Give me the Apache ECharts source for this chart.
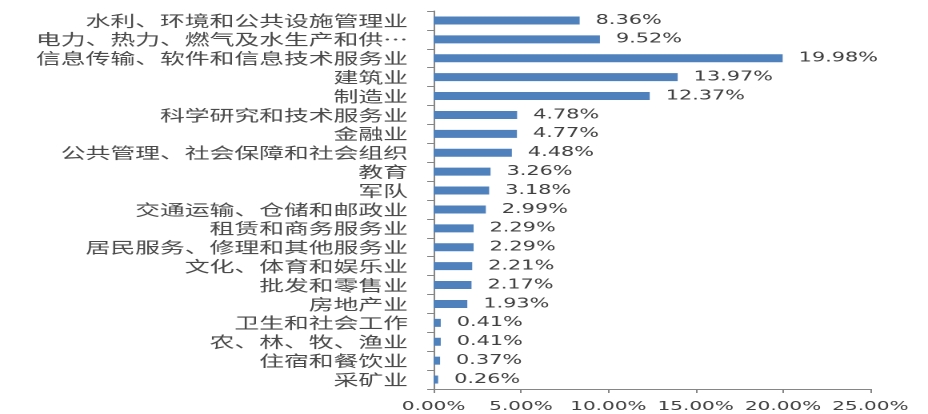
<!DOCTYPE html>
<html>
<head>
<meta charset="utf-8">
<script src="https://cdn.jsdelivr.net/npm/echarts@6/dist/echarts.min.js"></script>
<style>
  html, body { margin: 0; padding: 0; background: #fff; overflow: hidden; }
  /* the reference is stretched sideways, so draw narrow and widen it */
  #chart { width: 580px; height: 414px; transform: scaleX(1.6); transform-origin: 0 0; }
</style>
</head>
<body>
<div id="chart"></div>
<script>
const industries = [
  "水利、环境和公共设施管理业",
  "电力、热力、燃气及水生产和供…",
  "信息传输、软件和信息技术服务业",
  "建筑业",
  "制造业",
  "科学研究和技术服务业",
  "金融业",
  "公共管理、社会保障和社会组织",
  "教育",
  "军队",
  "交通运输、仓储和邮政业",
  "租赁和商务服务业",
  "居民服务、修理和其他服务业",
  "文化、体育和娱乐业",
  "批发和零售业",
  "房地产业",
  "卫生和社会工作",
  "农、林、牧、渔业",
  "住宿和餐饮业",
  "采矿业"
];
const shares = [8.36, 9.52, 19.98, 13.97, 12.37, 4.78, 4.77, 4.48, 3.26, 3.18, 2.99, 2.29, 2.29, 2.21, 2.17, 1.93, 0.41, 0.41, 0.37, 0.26];
const axisMin = 0;
const axisMax = 25;
const axisStep = 5;

const pct = (v) => `${Number(v).toFixed(2)}%`;
const textColor = "#404040";
const lineColor = "#868686";

const chart = echarts.init(document.getElementById("chart"), null, { renderer: "canvas", devicePixelRatio: 2 });

chart.setOption({
  animation: false,
  backgroundColor: "#fff",
  grid: { left: 271, right: 36, top: 11, bottom: 25, containLabel: false },
  xAxis: {
    type: "value",
    min: axisMin,
    max: axisMax,
    interval: axisStep,
    axisLine: { show: true, lineStyle: { color: lineColor } },
    axisTick: { show: true, length: 4, lineStyle: { color: lineColor } },
    splitLine: { show: false },
    axisLabel: {
      formatter: pct,
      color: textColor,
      fontFamily: "DejaVu Sans",
      fontSize: 12.5,
      margin: 11
    }
  },
  yAxis: {
    type: "category",
    inverse: true,
    data: industries,
    axisLine: { show: true, lineStyle: { color: lineColor } },
    axisTick: { show: true, length: 4, interval: 0, lineStyle: { color: lineColor } },
    axisLabel: {
      interval: 0,
      color: "#4a4a4a",
      fontFamily: "Noto Sans CJK SC",
      fontSize: 15.5,
      margin: 16
    }
  },
  series: [
    {
      type: "bar",
      data: shares,
      barWidth: 8,
      itemStyle: { color: "#4f81bd" },
      label: {
        show: true,
        position: "right",
        distance: 10,
        formatter: (p) => pct(p.value),
        color: textColor,
        fontFamily: "DejaVu Sans",
        fontSize: 13
      }
    }
  ]
});
</script>
</body>
</html>
